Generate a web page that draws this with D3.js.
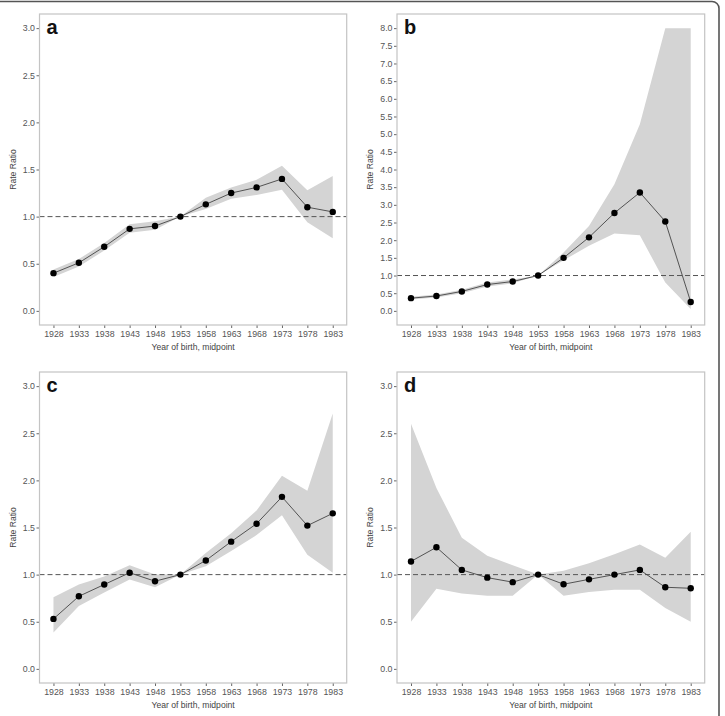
<!DOCTYPE html>
<html>
<head>
<meta charset="utf-8">
<script src="https://cdn.jsdelivr.net/npm/d3@7"></script>
<style>
  body { margin: 0; background: #fff; }
  svg { display: block; font-family: "Liberation Sans", Arial, sans-serif; }
</style>
</head>
<body>
<svg width="725" height="716"></svg>
<script>
var years = [1928, 1933, 1938, 1943, 1948, 1953, 1958, 1963, 1968, 1973, 1978, 1983];

var a_rate  = [0.40, 0.51, 0.68, 0.87, 0.90, 1.00, 1.13, 1.25, 1.31, 1.40, 1.10, 1.05];
var a_lower = [0.36, 0.47, 0.64, 0.83, 0.86, 1.00, 1.08, 1.19, 1.23, 1.285, 0.94, 0.77];
var a_upper = [0.44, 0.55, 0.72, 0.92, 0.95, 1.00, 1.20, 1.31, 1.39, 1.54, 1.28, 1.43];

var b_rate  = [0.36, 0.42, 0.55, 0.745, 0.83, 1.00, 1.50, 2.08, 2.77, 3.35, 2.53, 0.25];
var b_lower = [0.32, 0.38, 0.50, 0.69, 0.78, 1.00, 1.43, 1.84, 2.19, 2.14, 0.80, 0.05];
var b_upper = [0.40, 0.46, 0.60, 0.80, 0.89, 1.00, 1.65, 2.40, 3.58, 5.28, 8.00, 8.00];

var c_rate  = [0.53, 0.77, 0.895, 1.02, 0.93, 1.00, 1.15, 1.35, 1.54, 1.825, 1.52, 1.65];
var c_lower = [0.385, 0.667, 0.81, 0.947, 0.867, 1.00, 1.09, 1.25, 1.42, 1.63, 1.21, 1.02];
var c_upper = [0.76, 0.895, 0.98, 1.10, 1.00, 1.00, 1.23, 1.44, 1.68, 2.05, 1.89, 2.71];

var d_rate  = [1.14, 1.29, 1.05, 0.968, 0.92, 1.00, 0.898, 0.95, 1.00, 1.05, 0.866, 0.855];
var d_lower = [0.50, 0.85, 0.80, 0.775, 0.775, 1.00, 0.775, 0.815, 0.84, 0.84, 0.645, 0.50];
var d_upper = [2.60, 1.92, 1.39, 1.20, 1.10, 1.00, 1.04, 1.12, 1.215, 1.32, 1.18, 1.455];

var ticks_small = [0, 0.5, 1, 1.5, 2, 2.5, 3];
var ticks_big = d3.range(0, 8.01, 0.5);

var panels = [
  { letter: 'a', ox: 0,   oy: 0,   left: 39.5, right: 346.7, rate: a_rate, lower: a_lower, upper: a_upper, ymax: 3, yticks: ticks_small },
  { letter: 'b', ox: 362, oy: 0,   left: 35,   right: 342.7, rate: b_rate, lower: b_lower, upper: b_upper, ymax: 8, yticks: ticks_big },
  { letter: 'c', ox: 0,   oy: 358, left: 39.5, right: 346.7, rate: c_rate, lower: c_lower, upper: c_upper, ymax: 3, yticks: ticks_small },
  { letter: 'd', ox: 362, oy: 358, left: 35,   right: 342.7, rate: d_rate, lower: d_lower, upper: d_upper, ymax: 3, yticks: ticks_small }
];

var svg = d3.select('svg');

// outer frame
svg.append('rect')
  .attr('x', -20).attr('y', 1.5)
  .attr('width', 739).attr('height', 760)
  .attr('rx', 7)
  .attr('fill', 'none')
  .attr('stroke', '#555')
  .attr('stroke-width', 1.6);

var plotTop = 14, plotBottom = 325;

panels.forEach(function(p) {
  var g = svg.append('g').attr('transform', 'translate(' + p.ox + ',' + p.oy + ')');
  var pad = p.ymax * 0.05;
  var x = d3.scaleLinear().domain([1925.25, 1985.75]).range([p.left, p.right]);
  var y = d3.scaleLinear().domain([-pad, p.ymax + pad]).range([plotBottom, plotTop]);

  var area = d3.area()
    .x(function(d, i) { return x(years[i]); })
    .y0(function(d, i) { return y(p.lower[i]); })
    .y1(function(d, i) { return y(p.upper[i]); });

  g.append('path')
    .datum(years)
    .attr('d', area)
    .attr('fill', '#d4d4d4');

  g.append('line')
    .attr('x1', p.left).attr('x2', p.right)
    .attr('y1', y(1)).attr('y2', y(1))
    .attr('stroke', '#555')
    .attr('stroke-width', 1)
    .attr('stroke-dasharray', '5,3');

  var line = d3.line()
    .x(function(d, i) { return x(years[i]); })
    .y(function(d) { return y(d); });

  g.append('path')
    .datum(p.rate)
    .attr('d', line)
    .attr('fill', 'none')
    .attr('stroke', '#444')
    .attr('stroke-width', 0.9);

  g.selectAll('circle')
    .data(p.rate)
    .enter()
    .append('circle')
    .attr('cx', function(d, i) { return x(years[i]); })
    .attr('cy', function(d) { return y(d); })
    .attr('r', 3.2)
    .attr('fill', '#000');

  // axes
  var xAxis = d3.axisBottom(x).tickValues(years).tickFormat(d3.format('d')).tickSize(3).tickPadding(2.5);
  var yAxis = d3.axisLeft(y).tickValues(p.yticks).tickFormat(d3.format('.1f')).tickSize(3).tickPadding(1.5);

  var gx = g.append('g').attr('transform', 'translate(0,' + plotBottom + ')').call(xAxis);
  var gy = g.append('g').attr('transform', 'translate(' + p.left + ',0)').call(yAxis);
  [gx, gy].forEach(function(ax) {
    ax.select('.domain').remove();
    ax.selectAll('line').attr('stroke', '#666');
    ax.selectAll('text').attr('fill', '#555').style('font-size', '8.8px');
  });

  g.append('rect')
    .attr('x', p.left).attr('y', plotTop)
    .attr('width', p.right - p.left).attr('height', plotBottom - plotTop)
    .attr('fill', 'none')
    .attr('stroke', '#c4c4c4')
    .attr('stroke-width', 1.2);

  g.append('text')
    .attr('x', p.left + 7).attr('y', plotTop + 20)
    .attr('font-size', '20px')
    .attr('font-weight', 'bold')
    .attr('fill', '#111')
    .text(p.letter);

  g.append('text')
    .attr('x', (p.left + p.right) / 2).attr('y', 350)
    .attr('text-anchor', 'middle')
    .attr('font-size', '8.6px')
    .attr('fill', '#444')
    .text('Year of birth, midpoint');

  g.append('text')
    .attr('transform', 'translate(' + (p.left - 24) + ',' + ((plotTop + plotBottom) / 2) + ') rotate(-90)')
    .attr('text-anchor', 'middle')
    .attr('font-size', '8.6px')
    .attr('fill', '#444')
    .text('Rate Ratio');
});
</script>
</body>
</html>
